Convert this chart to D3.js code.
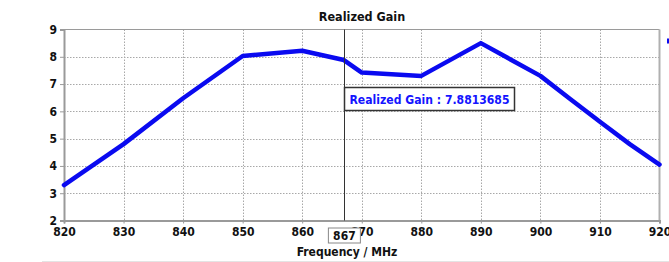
<!DOCTYPE html>
<html>
<head>
<meta charset="utf-8">
<script src="https://cdn.jsdelivr.net/npm/d3@7.9.0/dist/d3.min.js"></script>
<style>
  body { margin: 0; background: #fff; }
  svg { display: block; font-family: "DejaVu Sans", Verdana, sans-serif; }
</style>
</head>
<body>
<svg width="669" height="262"></svg>
<script>
// data
const freqs = [820, 830, 840, 850, 860, 867, 870, 880, 890, 900, 905, 910, 915, 920];
const gains = [3.3, 4.8, 6.48, 8.03, 8.22, 7.88, 7.42, 7.3, 8.5, 7.3, 6.45, 5.62, 4.8, 4.05];
const xTicks = [820, 830, 840, 850, 860, 870, 880, 890, 900, 910, 920];
const yTicks = [2, 3, 4, 5, 6, 7, 8, 9];
const markerFreq = 867;
const markerValue = '7.8813685';

const width = 669, height = 262;
const margin = { top: 29.5, right: 9.5, bottom: 41.5, left: 64 };
const font = '"DejaVu Sans Condensed", "DejaVu Sans", sans-serif';

let svg = d3.select('svg');

let x = d3.scaleLinear().domain([820, 920]).range([margin.left, width - margin.right]);
let y = d3.scaleLinear().domain([2, 9]).range([height - margin.bottom, margin.top]);

// grid
let grid = svg.append('g')
  .attr('stroke', '#a8a8a8')
  .attr('stroke-width', 1)
  .attr('stroke-dasharray', '1.5,1.5');

grid.selectAll('.vg')
  .data(xTicks.slice(1, -1))
  .join('line')
  .attr('x1', d => Math.round(x(d)) + 0.5).attr('x2', d => Math.round(x(d)) + 0.5)
  .attr('y1', y(9)).attr('y2', y(2));

grid.selectAll('.hg')
  .data(yTicks.slice(1, -1))
  .join('line')
  .attr('x1', x(820)).attr('x2', x(920))
  .attr('y1', d => Math.round(y(d)) + 0.5).attr('y2', d => Math.round(y(d)) + 0.5);

// frame: top light, right/left/bottom heavier gray
svg.append('line')
  .attr('x1', x(820)).attr('x2', x(920))
  .attr('y1', y(9)).attr('y2', y(9))
  .attr('stroke', '#9a9a9a').attr('stroke-width', 1);

svg.append('line')
  .attr('x1', x(920)).attr('x2', x(920))
  .attr('y1', y(9)).attr('y2', y(2))
  .attr('stroke', '#b0b0b0').attr('stroke-width', 2);

// axes
let xAxis = d3.axisBottom(x).tickValues(xTicks).tickSize(3).tickPadding(4).tickFormat(d3.format('d'));
let yAxis = d3.axisLeft(y).tickValues(yTicks).tickSize(4).tickPadding(3).tickFormat(d3.format('d'));

let gx = svg.append('g')
  .attr('transform', `translate(0,${y(2)})`)
  .call(xAxis);

let gy = svg.append('g')
  .attr('transform', `translate(${x(820)},0)`)
  .call(yAxis);

[gx, gy].forEach(g => {
  g.select('.domain').attr('stroke', '#9a9a9a').attr('stroke-width', 2);
  g.selectAll('.tick line').attr('stroke', '#9a9a9a').attr('stroke-width', 1);
  g.selectAll('.tick text')
    .attr('fill', '#111')
    .style('font-size', '12px')
    .style('font-weight', 'bold')
    .style('font-family', font);
});

// curve
let line = d3.line()
  .x((d, i) => x(freqs[i]))
  .y(d => y(d));

svg.append('path')
  .datum(gains)
  .attr('d', line)
  .attr('fill', 'none')
  .attr('stroke', '#0a0af0')
  .attr('stroke-width', 4.5)
  .attr('stroke-linejoin', 'round')
  .attr('stroke-linecap', 'round');

// marker line
svg.append('line')
  .attr('x1', Math.round(x(markerFreq)) + 0.5).attr('x2', Math.round(x(markerFreq)) + 0.5)
  .attr('y1', y(9)).attr('y2', y(2))
  .attr('stroke', '#333').attr('stroke-width', 1);

// marker tooltip
let tipX = Math.round(x(markerFreq)) + 0.5;
let tip = svg.append('g').attr('transform', `translate(${tipX},${87.5})`);
tip.append('rect')
  .attr('width', 170).attr('height', 23)
  .attr('fill', '#fff').attr('stroke', '#333').attr('stroke-width', 1.5);
tip.append('text')
  .attr('x', 5).attr('y', 16)
  .attr('fill', '#1414ff')
  .style('font-size', '12.5px')
  .style('font-weight', 'bold')
  .style('font-family', font)
  .attr('textLength', 160)
  .attr('lengthAdjust', 'spacingAndGlyphs')
  .text(`Realized Gain : ${markerValue}`);

// marker label on x axis
let mk = svg.append('g').attr('transform', `translate(${x(markerFreq)},${y(2) + 7})`);
mk.append('rect')
  .attr('x', -15.5).attr('y', 0.5)
  .attr('width', 32).attr('height', 15)
  .attr('fill', '#fff').attr('stroke', '#888').attr('stroke-width', 1);
mk.append('text')
  .attr('x', 0.5).attr('y', 12.5)
  .attr('text-anchor', 'middle')
  .attr('fill', '#111')
  .style('font-size', '12px')
  .style('font-weight', 'bold')
  .style('font-family', font)
  .text(markerFreq);

// title and axis label
svg.append('text')
  .attr('x', 362).attr('y', 21)
  .attr('text-anchor', 'middle')
  .style('font-size', '12.5px')
  .style('font-weight', 'bold')
  .style('font-family', font)
  .attr('fill', '#111')
  .text('Realized Gain');

svg.append('text')
  .attr('x', 347).attr('y', 256)
  .attr('text-anchor', 'middle')
  .style('font-size', '12px')
  .style('font-weight', 'bold')
  .style('font-family', font)
  .attr('fill', '#111')
  .text('Frequency / MHz');

// cut-off legend at the right edge and faint bottom rule
svg.append('rect')
  .attr('x', 667).attr('y', 38.5).attr('width', 2).attr('height', 5)
  .attr('fill', '#0a0af0');

svg.append('line')
  .attr('x1', 42).attr('x2', width)
  .attr('y1', 261.5).attr('y2', 261.5)
  .attr('stroke', '#e4e4e4');
</script>
</body>
</html>
